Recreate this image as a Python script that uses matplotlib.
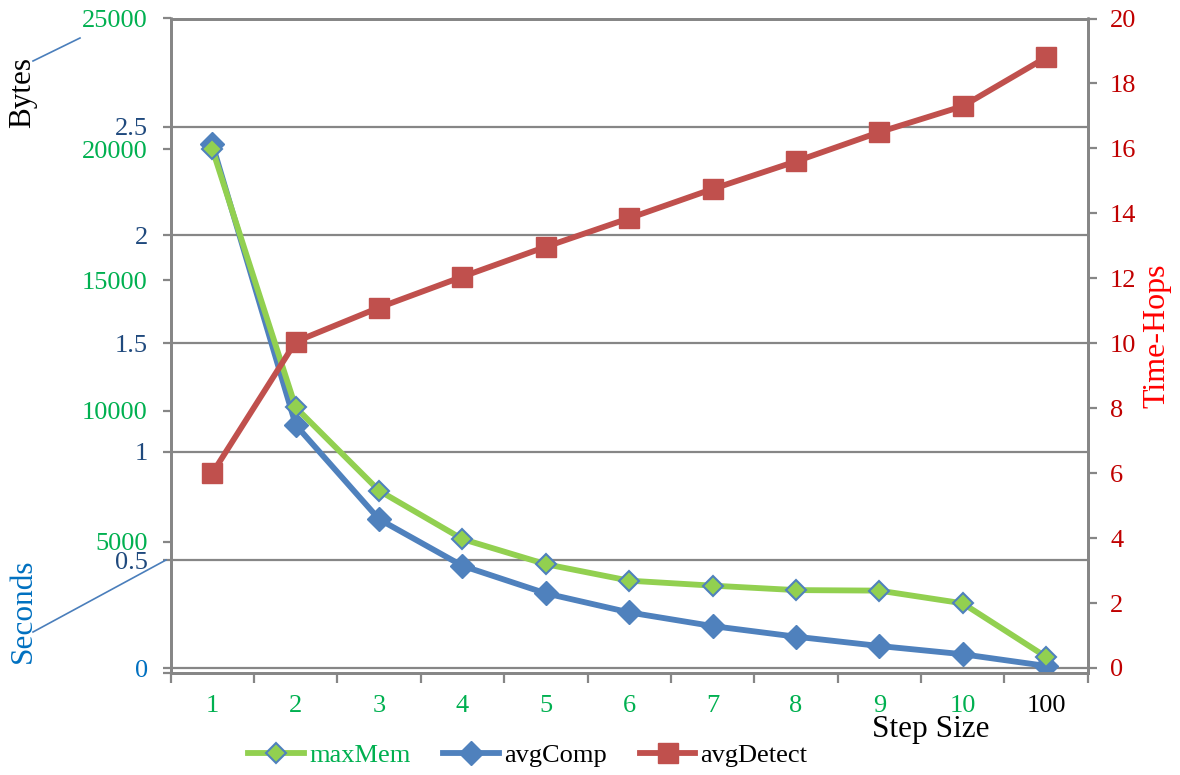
import matplotlib
matplotlib.use("Agg")
import matplotlib.pyplot as plt
from matplotlib.lines import Line2D

plt.rcParams['font.family'] = ['Liberation Serif', 'DejaVu Serif']

categories = ['1', '2', '3', '4', '5', '6', '7', '8', '9', '10', '100']
max_mem = [20000, 10130, 6950, 5100, 4140, 3510, 3320, 3150, 3130, 2645, 600]
avg_comp = [2.42, 1.123, 0.688, 0.473, 0.346, 0.258, 0.195, 0.146, 0.103, 0.065, 0.011]
avg_detect = [6.0, 10.05, 11.1, 12.05, 12.97, 13.85, 14.75, 15.6, 16.5, 17.3, 18.8]

sec_ticks = [0, 0.5, 1, 1.5, 2, 2.5]
sec_labels = ['0', '0.5', '1', '1.5', '2', '2.5']
byte_ticks = [0, 5000, 10000, 15000, 20000, 25000]
byte_labels = ['', '5000', '10000', '15000', '20000', '25000']
hop_ticks = [0, 2, 4, 6, 8, 10, 12, 14, 16, 18, 20]

GREEN = '#92D050'
BLUE = '#4F81BD'
RED = '#C0504D'
GRAY = '#868686'
FS = 19
LW = 4.2

W, H = 1180, 775
fig = plt.figure(figsize=(W / 100, H / 100), dpi=100)
left, right, top, bottom = 170.7, 1087.7, 18.5, 672.5
rect = [left / W, 1 - bottom / H, (right - left) / W, (bottom - top) / H]

ax = fig.add_axes(rect)           # seconds
ax2 = ax.twinx()                  # bytes (left)
ax3 = ax.twinx()                  # hops (right)

x = list(range(len(categories)))

# seconds axis
ax.set_xlim(-0.5, len(categories) - 0.5)
ax.set_ylim(-(bottom - 668.3) / 216.7, 3.0)
ax.set_yticks(sec_ticks)
ax.set_yticklabels(sec_labels)
ax.yaxis.grid(True, color=GRAY, lw=1.6)
ax.set_axisbelow(True)
ax.tick_params(axis='y', direction='out', length=5.5, width=1.6, color=GRAY,
               pad=11, labelsize=FS, labelcolor='#1F497D')
ax.get_yticklabels()[0].set_color('#0070C0')
ax.plot(x, avg_comp, color=BLUE, lw=LW, marker='D', ms=12, mfc=BLUE, mec=BLUE,
        zorder=3, solid_joinstyle='round')

# x axis
ax.set_xticks([i - 0.5 for i in range(len(categories) + 1)])
ax.set_xticklabels([])
ax.set_xticks(x, minor=True)
ax.set_xticklabels(categories, minor=True)
ax.tick_params(axis='x', which='major', direction='out', length=7.5, width=1.6, color=GRAY)
ax.tick_params(axis='x', which='minor', length=0, pad=16, labelsize=FS, labelcolor='#00B050')
ax.get_xticklabels(minor=True)[-1].set_color('black')

# bytes axis
ax2.set_ylim(0, 25000)
ax2.yaxis.tick_left()
ax2.set_yticks(byte_ticks)
ax2.set_yticklabels(byte_labels)
ax2.tick_params(axis='y', direction='out', length=5.5, width=1.6, color=GRAY,
                pad=11, labelsize=FS, labelcolor='#00B050')
ax2.plot(x, max_mem, color=GREEN, lw=LW, marker='D', ms=10.5, mfc=GREEN, mec=BLUE,
         mew=1.5, zorder=3, solid_joinstyle='round')

# hops axis
ax3.set_ylim(-(bottom - 668.0) / 32.4, 20)
ax3.set_yticks(hop_ticks)
ax3.tick_params(axis='y', direction='out', length=6.5, width=1.6, color=GRAY,
                pad=9.6, labelsize=FS, labelcolor='#C00000')
ax3.plot(x, avg_detect, color=RED, lw=LW, marker='s', ms=14, mfc=RED, mec=RED,
         zorder=3, solid_joinstyle='round')

for a in (ax, ax2, ax3):
    for s in a.spines.values():
        s.set_color(GRAY)
        s.set_linewidth(1.8)
    a.patch.set_visible(False)

# axis titles
fig.text(23 / W, 1 - 92 / H, 'Bytes', rotation=90, ha='center', va='center',
         fontsize=22.5, color='black')
fig.text(23 / W, 1 - 611 / H, 'Seconds', rotation=90, ha='center', va='center',
         fontsize=22.5, color='#0070C0')
fig.text(1157 / W, 1 - 336 / H, 'Time-Hops', rotation=90, ha='center', va='center',
         fontsize=23, color='#FF0000')
fig.text(931 / W, 1 - 737 / H, 'Step Size', ha='center', va='baseline',
         fontsize=22.5, color='black')

# leader lines
fig.add_artist(Line2D([33 / W, 80 / W], [1 - 61 / H, 1 - 38 / H], color='#4A7EBB', lw=1.2))
fig.add_artist(Line2D([33 / W, 166 / W], [1 - 632 / H, 1 - 560 / H], color='#4A7EBB', lw=1.2))

# legend
handles = [
    Line2D([], [], color=GREEN, lw=LW, marker='D', ms=10.5, mfc=GREEN, mec=BLUE, mew=1.5),
    Line2D([], [], color=BLUE, lw=LW, marker='D', ms=12, mfc=BLUE, mec=BLUE),
    Line2D([], [], color=RED, lw=LW, marker='s', ms=14, mfc=RED, mec=RED),
]
leg = fig.legend(handles, ['maxMem', 'avgComp', 'avgDetect'], loc='center',
                 bbox_to_anchor=(528 / W, 1 - 755 / H), ncol=3, frameon=False,
                 fontsize=FS, handlelength=2.1, handletextpad=0.2, columnspacing=1.25,
                 numpoints=1, borderpad=0, borderaxespad=0)
leg.get_texts()[0].set_color('#00B050')

fig.savefig('out.png', dpi=100)
